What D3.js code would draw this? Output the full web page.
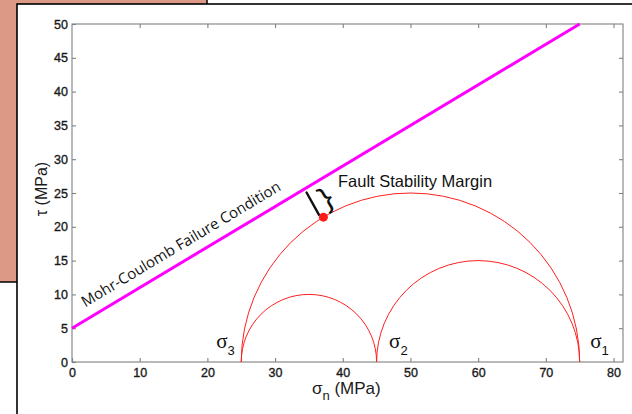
<!DOCTYPE html>
<html>
<head>
<meta charset="utf-8">
<script src="https://cdn.jsdelivr.net/npm/d3@7"></script>
<style>
  html, body { margin: 0; padding: 0; background: #fff; overflow: hidden; }
  svg { display: block; }
</style>
</head>
<body>
<svg id="chart" width="632" height="414"></svg>
<script>
// Principal stresses (MPa) and their labels
const principalStresses = [25, 45, 75];
const stressLabels = ["3", "2", "1"];
// Mohr circles as [sigma_min, sigma_max] pairs
const mohrCircles = [[25, 75], [25, 45], [45, 75]];
// Mohr-Coulomb failure envelope end points [sigma_n, tau]
const failureLine = [[0, 5], [75, 50]];
// Point on the large circle closest to the envelope, and its foot on the envelope
const criticalPoint = [37.14, 21.43];
const envelopeFoot = [34.56, 25.72];
// Axis ticks
const xTicks = [0, 10, 20, 30, 40, 50, 60, 70, 80];
const yTicks = [0, 5, 10, 15, 20, 25, 30, 35, 40, 45, 50];

const svg = d3.select("#chart");

// Backdrop card and white panel
svg.append("rect").attr("x", -2).attr("y", -2).attr("width", 209).attr("height", 284)
  .attr("fill", "#db9986").attr("stroke", "#000").attr("stroke-width", 1.5);
svg.append("rect").attr("x", 17).attr("y", 4).attr("width", 640).attr("height", 430)
  .attr("fill", "#fff").attr("stroke", "#000").attr("stroke-width", 1.6);

const x = d3.scaleLinear().domain([0, 81.4]).range([72, 623]);
const y = d3.scaleLinear().domain([0, 50]).range([362, 24]);

const tickFont = "'Liberation Sans', Arial, sans-serif";

// Plot box
svg.append("rect")
  .attr("x", x(0)).attr("y", y(50))
  .attr("width", x(81.4) - x(0)).attr("height", y(0) - y(50))
  .attr("fill", "none").attr("stroke", "#808080").attr("stroke-width", 1.1);

function styleAxis(g) {
  g.select(".domain").remove();
  g.selectAll(".tick line").attr("stroke", "#808080").attr("stroke-width", 1.1);
  g.selectAll(".tick text").attr("fill", "#1a1a1a")
    .attr("stroke", "#1a1a1a").attr("stroke-width", 0.35)
    .style("font-family", tickFont).style("font-size", "12.5px");
}

svg.append("g").attr("transform", `translate(0,${y(0)})`)
  .call(d3.axisBottom(x).tickValues(xTicks).tickSizeInner(-4).tickSizeOuter(0).tickPadding(6))
  .call(styleAxis);
svg.append("g").attr("transform", `translate(0,${y(50)})`)
  .call(d3.axisTop(x).tickValues(xTicks.filter(d => d > 0)).tickSizeInner(-4).tickSizeOuter(0).tickFormat(""))
  .call(styleAxis);
svg.append("g").attr("transform", `translate(${x(0)},0)`)
  .call(d3.axisLeft(y).tickValues(yTicks).tickSizeInner(-4).tickSizeOuter(0).tickPadding(4))
  .call(styleAxis);
svg.append("g").attr("transform", `translate(${x(81.4)},0)`)
  .call(d3.axisRight(y).tickValues(yTicks.filter(d => d > 0 && d < 50)).tickSizeInner(-4).tickSizeOuter(0).tickFormat(""))
  .call(styleAxis);

// Axis titles
const xTitle = svg.append("text")
  .attr("x", 312).attr("y", 394)
  .style("font-family", tickFont).style("font-size", "17px").attr("fill", "#1a1a1a");
xTitle.append("tspan").text("σ");
xTitle.append("tspan").attr("dy", 6).style("font-size", "13px").text("n");
xTitle.append("tspan").attr("dy", -6).text(" (MPa)");

svg.append("text")
  .attr("transform", "translate(47,189) rotate(-90)")
  .attr("text-anchor", "middle")
  .style("font-family", tickFont).style("font-size", "16px").attr("fill", "#1a1a1a")
  .text("τ (MPa)");

// Mohr circles (upper halves)
svg.append("g").selectAll("path").data(mohrCircles).join("path")
  .attr("d", d => {
    const r = (d[1] - d[0]) / 2;
    const rx = x(r) - x(0), ry = y(0) - y(r);
    return `M${x(d[0])},${y(0)} A${rx},${ry} 0 0 1 ${x(d[1])},${y(0)}`;
  })
  .attr("fill", "none").attr("stroke", "#ff1f1f").attr("stroke-width", 1);

// Failure envelope
const line = d3.line().x(d => x(d[0])).y(d => y(d[1]));
svg.append("path").datum(failureLine).attr("d", line)
  .attr("fill", "none").attr("stroke", "#ff00ff").attr("stroke-width", 3);

const angle = Math.atan2(y(failureLine[1][1]) - y(failureLine[0][1]),
                         x(failureLine[1][0]) - x(failureLine[0][0])) * 180 / Math.PI;

svg.append("text")
  .attr("transform", `translate(${x(failureLine[0][0])},${y(failureLine[0][1])}) rotate(${angle})`)
  .attr("x", 22).attr("y", -11)
  .style("font-family", "'Open Sans', sans-serif").style("font-size", "15px").attr("fill", "#111")
  .text("Mohr-Coulomb Failure Condition");

// Stability margin marker
const px = [x(criticalPoint[0]), y(criticalPoint[1])];
const pf = [x(envelopeFoot[0]), y(envelopeFoot[1])];
const lerp = t => [px[0] + (pf[0] - px[0]) * t, px[1] + (pf[1] - px[1]) * t];
const a = lerp(0.08), b = lerp(0.85);
svg.append("line")
  .attr("x1", a[0] - 3).attr("y1", a[1]).attr("x2", b[0] - 2).attr("y2", b[1])
  .attr("stroke", "#111").attr("stroke-width", 2.4).attr("stroke-linecap", "round");

const mid = lerp(0.5);
svg.append("text")
  .attr("transform", `translate(${mid[0] + 11},${mid[1] - 5}) rotate(${angle})`)
  .attr("text-anchor", "middle").attr("dy", "0.35em")
  .style("font-family", "'Open Sans', sans-serif").style("font-size", "32px").attr("fill", "#111")
  .text("}");

svg.append("circle")
  .attr("cx", px[0]).attr("cy", px[1]).attr("r", 4.5)
  .attr("fill", "#ff1a1a");

svg.append("text")
  .attr("x", 338).attr("y", 187)
  .style("font-family", tickFont).style("font-size", "16.5px").attr("fill", "#111")
  .text("Fault Stability Margin");

// Principal stress labels
const labelOffsets = [-25, 12.5, 10.5];
const sig = svg.append("g").selectAll("text").data(principalStresses).join("text")
  .attr("x", (d, i) => x(d) + labelOffsets[i]).attr("y", 348)
  .attr("fill", "#111");
sig.append("tspan").style("font-family", "'Liberation Serif', serif").style("font-size", "21px").text("σ");
sig.append("tspan").attr("dy", 7).style("font-family", tickFont).style("font-size", "13px")
  .text((d, i) => stressLabels[i]);
</script>
</body>
</html>
